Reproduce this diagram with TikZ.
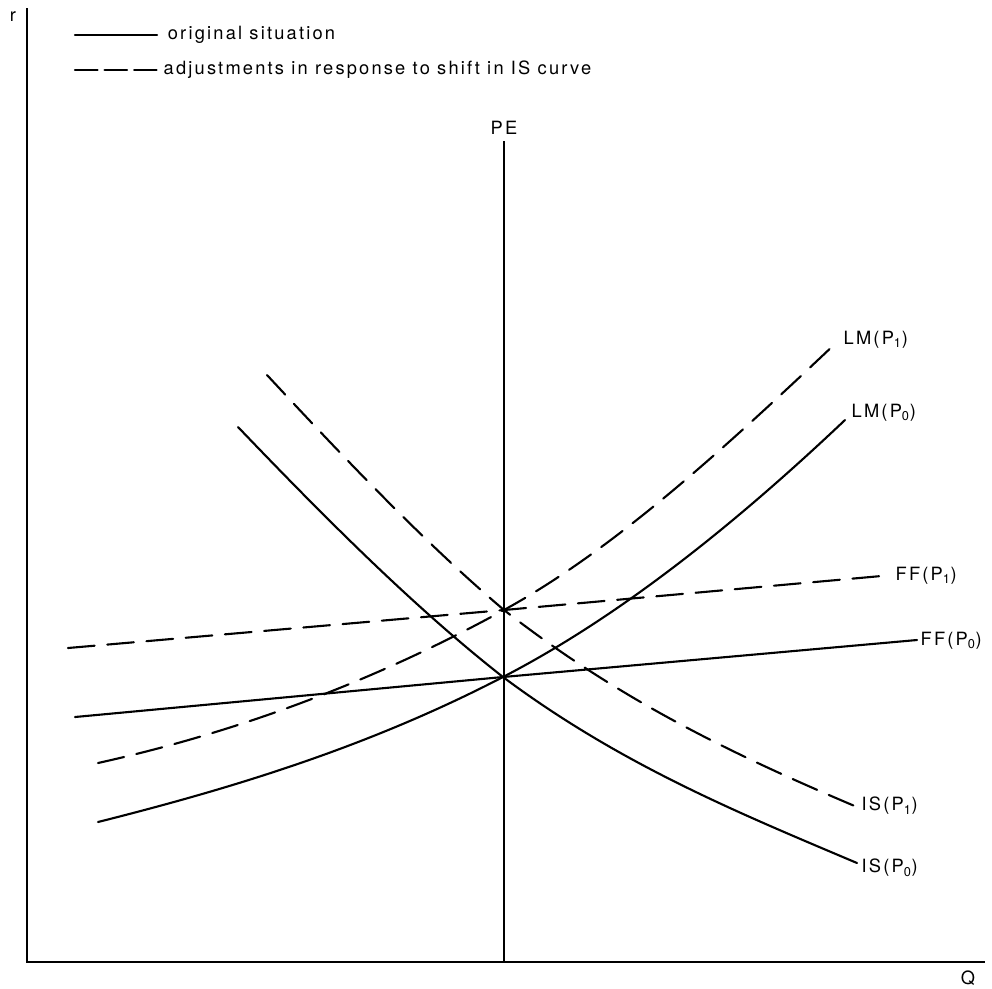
\documentclass[tikz,border=0pt]{standalone}
\usepackage{fontspec}
\setmainfont[LetterSpace=12]{TeX Gyre Heros}
\usetikzlibrary{calc}
\tikzset{
  curve/.style={line width=1.5pt, line cap=round},
  shifted/.style={curve, dash pattern=on 19pt off 9pt},
  lbl/.style={font=\fontsize{13}{15}\selectfont, inner sep=1pt},
}

\begin{document}
\begin{tikzpicture}[x=0.025cm, y=-0.025cm]
\useasboundingbox (0,0) rectangle (992,988);
% axes
\draw[line width=1.1pt] (27,8) -- (27,962) -- (985,962);
\node[lbl] (r) at (13,17) {r};
\node[lbl] (Q) at (968,978) {Q};
\node[lbl] (PE) at (504,128) {PE};
\draw[line width=.9pt] (PE.south) ++(0,5) -- (504,962);
% legend
\coordinate (leg0) at (75,35);
\coordinate (leg1) at (75,70);
\draw[curve] (leg0) -- ++(82,0) node[right, lbl, xshift=6pt] (legtxt0) {original situation};
\draw[curve, dash pattern=on 16pt off 5pt] (leg1) -- ++(82,0) node[right, lbl, xshift=3pt] (legtxt1) {adjustments in response to shift in IS curve};
% equilibria
\coordinate (E0) at (503,677);
\coordinate (E1) at (504,610);
% FF curves
\draw[curve] (75,717) -- (E0) -- (917,640);
\node[lbl, anchor=west] (ff0) at (919,641) {FF(P\textsubscript{0})};
\draw[shifted] (68,648) -- (E1) -- (887,575.5);
\node[lbl, anchor=west] (ff1) at (894,576) {FF(P\textsubscript{1})};
% LM curves
\draw[curve] (98,822) .. controls (233,788) and (368,747) .. (E0)
  .. controls (617,618) and (731,528) .. (845,420);
\node[lbl, anchor=west] (lm0) at (850,413) {LM(P\textsubscript{0})};
\draw[shifted] (98,763) .. controls (233,733) and (369,684) .. (E1)
  .. controls (615,549) and (726,447) .. (837,342);
\node[lbl, anchor=west] (lm1) at (842,340) {LM(P\textsubscript{1})};
% IS curves
\draw[curve] (238,427) .. controls (326,519) and (415,608) .. (E0)
  .. controls (621,765) and (739,813) .. (857,863);
\node[lbl, anchor=west] (is0) at (860,868) {IS(P\textsubscript{0})};
\draw[shifted] (267,375) .. controls (346,460) and (425,543) .. (E1)
  .. controls (622,702) and (739,757) .. (857,807);
\node[lbl, anchor=west] (is1) at (860,806) {IS(P\textsubscript{1})};
\end{tikzpicture}
\end{document}
